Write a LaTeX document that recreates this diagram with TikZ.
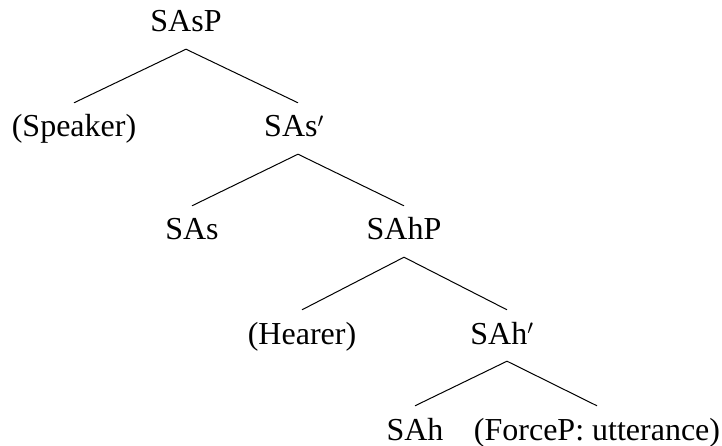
\documentclass[tikz,border=0pt]{standalone}
\usepackage{fontspec}
\setmainfont{Liberation Serif}
\begin{document}
\begin{tikzpicture}[x=1pt,y=-1pt,
  lbl/.style={anchor=base,font=\fontsize{32}{38}\selectfont,text height=22pt,text depth=5pt,inner xsep=0pt,inner ysep=12pt},
  edge/.style={line width=1pt}]
\useasboundingbox (0,0) rectangle (722,446);
\node[lbl] (sasp)   at (186,32)  {SAsP};
\node[lbl] (spk)    at (74,137)  {(Speaker)};
\node[lbl] (sasbar) at (294,137) {SAs$^{\prime}$};
\node[lbl] (sas)    at (192,240) {SAs};
\node[lbl] (sahp)   at (404,240) {SAhP};
\node[lbl] (hear)   at (302,344) {(Hearer)};
\node[lbl] (sahbar) at (502,344) {SAh$^{\prime}$};
\node[lbl] (sah)    at (415,440) {SAh};
\node[lbl] (force)  at (597,440) {(ForceP: utterance)};
\draw[edge] (spk.north) -- (sasp.south) -- ([xshift=4pt]sasbar.north);
\draw[edge] (sas.north) -- ([xshift=4pt]sasbar.south) -- (sahp.north);
\draw[edge] (hear.north) -- (sahp.south) -- ([xshift=5pt]sahbar.north);
\draw[edge] (sah.north) -- ([xshift=5pt]sahbar.south) -- (force.north);
\end{tikzpicture}
\end{document}
